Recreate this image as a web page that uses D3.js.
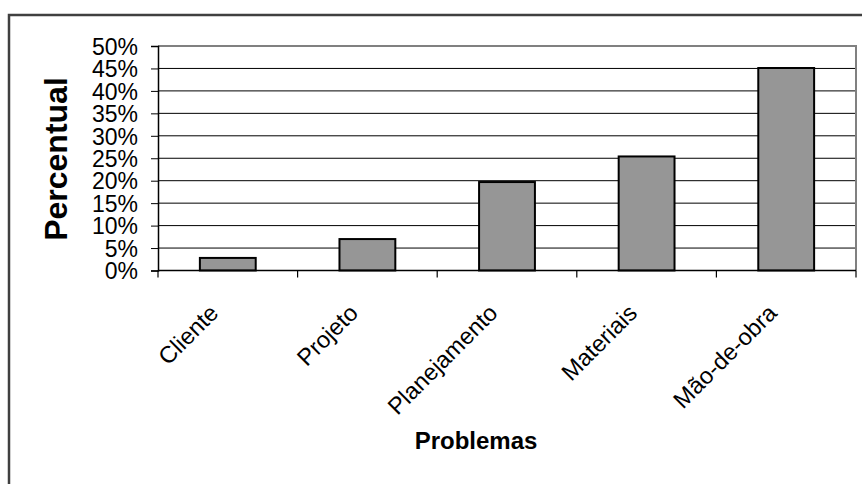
<!DOCTYPE html>
<html>
<head>
<meta charset="utf-8">
<script src="https://cdn.jsdelivr.net/npm/d3@7"></script>
<style>
  body { margin: 0; background: #fff; }
  text { font-family: "Liberation Sans", Arial, sans-serif; fill: #000; }
</style>
</head>
<body>
<div id="chart"></div>
<script>
const width = 862
const height = 484
const margin = {top: 46, right: 6, bottom: 213.5, left: 158}

// dados
const problemas = ["Cliente", "Projeto", "Planejamento", "Materiais", "Mão-de-obra"]
const percentual = [2.8, 7.0, 19.7, 25.4, 45.1]
const yTicks = [0, 5, 10, 15, 20, 25, 30, 35, 40, 45, 50]

const innerW = width - margin.left - margin.right
const innerH = height - margin.top - margin.bottom

const svg = d3.select("div#chart").append("svg").attr("width", width).attr("height", height)

// moldura externa (cortada à direita e embaixo)
svg.append("rect")
    .attr("x", 9).attr("y", 15)
    .attr("width", 900).attr("height", 500)
    .attr("fill", "none").attr("stroke", "#404040").attr("stroke-width", 2.5)

const g = svg.append("g").attr("transform", `translate(${margin.left}, ${margin.top})`)

const x = d3.scaleBand().domain(problemas).range([0, innerW]).paddingInner(0.6).paddingOuter(0.3)
const xCat = d3.scaleBand().domain(problemas).range([0, innerW])
const y = d3.scaleLinear().domain([0, 50]).range([innerH, 0])

// linhas de grade
g.selectAll("line.grid").data(yTicks.filter(d => d > 0 && d < 50)).enter()
    .append("line").attr("class", "grid")
    .attr("x1", 0).attr("x2", innerW)
    .attr("y1", d => y(d)).attr("y2", d => y(d))
    .attr("stroke", "#000").attr("stroke-width", 1)

// borda da área de plotagem (topo e direita)
g.append("path")
    .attr("d", `M0,${y(50)}H${innerW}V${innerH}`)
    .attr("fill", "none").attr("stroke", "#808080").attr("stroke-width", 2)

// barras
g.selectAll("rect.bar").data(problemas).enter()
    .append("rect").attr("class", "bar")
    .attr("x", d => x(d))
    .attr("y", (d, i) => y(percentual[i]))
    .attr("width", x.bandwidth())
    .attr("height", (d, i) => innerH - y(percentual[i]))
    .attr("fill", "#969696")
    .attr("stroke", "#000").attr("stroke-width", 2)

// eixo y
const yAxis = d3.axisLeft(y).tickValues(yTicks).tickFormat(d => d + "%").tickSize(7).tickPadding(13)
const yAxisGroup = g.append("g").call(yAxis)
yAxisGroup.select(".domain").attr("stroke", "#000").attr("stroke-width", 1.5)
yAxisGroup.selectAll(".tick line").attr("stroke", "#000")
yAxisGroup.selectAll(".tick text").attr("font-size", "23px").attr("font-family", "Liberation Sans, Arial, sans-serif").attr("dy", "0.36em")

// eixo x: marcas nas divisões das categorias
const xAxisGroup = g.append("g").attr("transform", `translate(0, ${innerH})`)
xAxisGroup.append("line").attr("x1", 0).attr("x2", innerW).attr("stroke", "#000").attr("stroke-width", 1.5)
const divisoes = problemas.map(d => xCat(d)).concat([innerW])
xAxisGroup.selectAll("line.tick").data(divisoes).enter()
    .append("line").attr("class", "tick")
    .attr("x1", d => d).attr("x2", d => d)
    .attr("y1", 0).attr("y2", 7)
    .attr("stroke", "#000").attr("stroke-width", 1.2)

xAxisGroup.selectAll("text.cat").data(problemas).enter()
    .append("text").attr("class", "cat")
    .attr("text-anchor", "end")
    .attr("font-size", "23.5px")
    .attr("transform", d => `translate(${xCat(d) + xCat.bandwidth() / 2 - 8}, 44) rotate(-45)`)
    .text(d => d)

// títulos dos eixos
svg.append("text")
    .attr("text-anchor", "middle")
    .attr("font-weight", "bold").attr("font-size", "32px")
    .attr("transform", `translate(67, 159) rotate(-90)`)
    .text("Percentual")

svg.append("text")
    .attr("text-anchor", "middle")
    .attr("font-weight", "bold").attr("font-size", "24px")
    .attr("x", 476).attr("y", 449)
    .text("Problemas")
</script>
</body>
</html>
